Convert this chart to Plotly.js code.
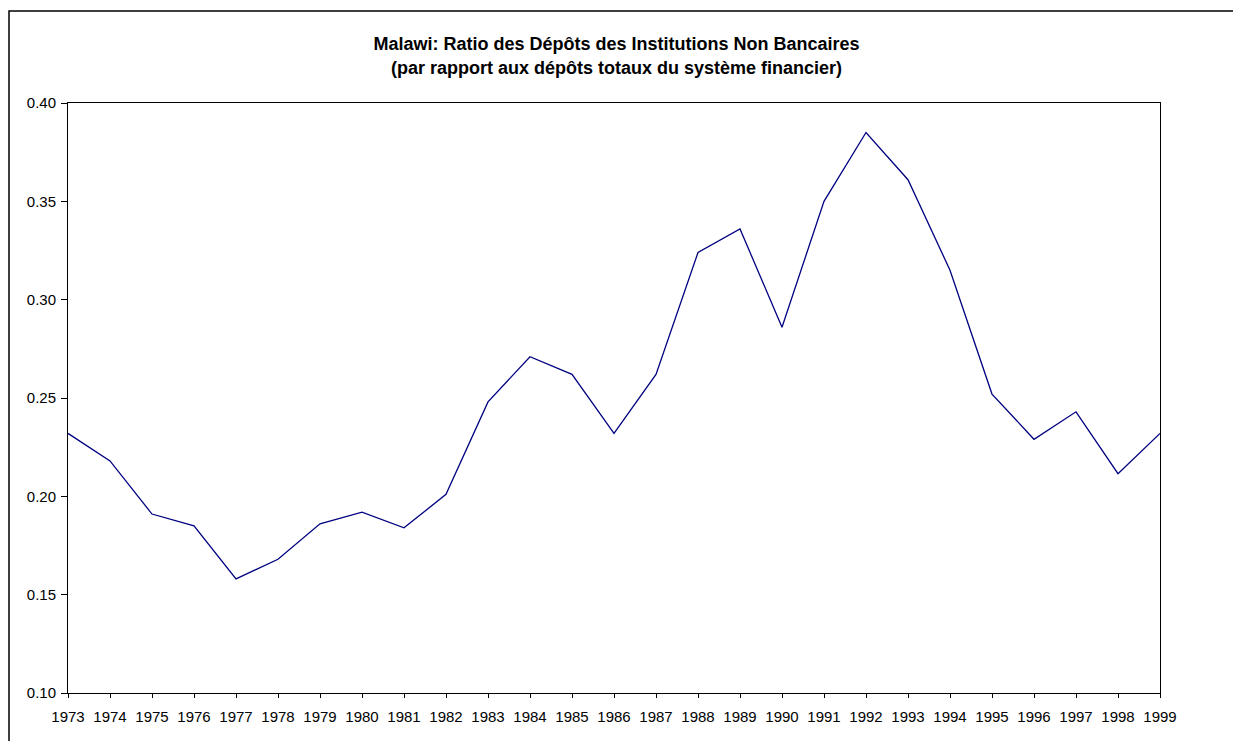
<!DOCTYPE html>
<html>
<head>
<meta charset="utf-8">
<script src="https://cdn.plot.ly/plotly-3.0.1.min.js"></script>
<style>html,body{margin:0;padding:0;background:#fff;}#chart{width:1233px;height:741px;}</style>
</head>
<body>
<div id="chart"></div>
<script>
const years = [1973,1974,1975,1976,1977,1978,1979,1980,1981,1982,1983,1984,1985,1986,1987,1988,1989,1990,1991,1992,1993,1994,1995,1996,1997,1998,1999];
const ratio = [0.232,0.218,0.191,0.185,0.158,0.168,0.186,0.192,0.184,0.201,0.248,0.271,0.262,0.232,0.262,0.324,0.336,0.286,0.350,0.385,0.361,0.315,0.252,0.229,0.243,0.2115,0.232];
const yTicks = [0.10,0.15,0.20,0.25,0.30,0.35,0.40];
const titleText = 'Malawi: Ratio des Dépôts des Institutions Non Bancaires<br>(par rapport aux dépôts totaux du système financier)';

const font = {family: 'Liberation Sans, Arial, sans-serif', size: 15, color: '#000'};

Plotly.newPlot('chart', [{
  x: years, y: ratio, type: 'scatter', mode: 'lines',
  line: {color: '#000080', width: 1.3}, hoverinfo: 'x+y'
}], {
  width: 1233, height: 741,
  margin: {l: 68, r: 73, t: 103, b: 48, pad: 0},
  paper_bgcolor: '#fff', plot_bgcolor: '#fff',
  font: font,
  showlegend: false,
  title: {text: '<b>' + titleText + '</b>', x: 0.5, xref: 'container', xanchor: 'center', y: 0.932, yref: 'container', yanchor: 'top',
          font: {family: 'Liberation Sans, Arial, sans-serif', size: 18, color: '#000'}},
  xaxis: {range: [1973, 1999], tickmode: 'array', tickvals: years, ticktext: years.map(String),
          showgrid: false, zeroline: false, showline: true, mirror: true, linecolor: '#000', linewidth: 1,
          ticks: 'outside', ticklen: 4, tickcolor: '#000', tickwidth: 1, ticklabelstandoff: 6,
          tickfont: font, fixedrange: true},
  yaxis: {range: [0.10, 0.40], tickmode: 'array', tickvals: yTicks, ticktext: yTicks.map(v => v.toFixed(2)),
          showgrid: false, zeroline: false, showline: true, mirror: true, linecolor: '#000', linewidth: 1,
          ticks: 'outside', ticklen: 6, tickcolor: '#000', tickwidth: 1, ticklabelstandoff: 2,
          tickfont: font, fixedrange: true},
  shapes: [{type: 'rect', xref: 'paper', yref: 'paper',
            x0: (9 - 68) / 1092, x1: (1245 - 68) / 1092,
            y0: (693 - 760) / 590, y1: 1 + (103 - 11) / 590,
            line: {color: '#000', width: 1.5}, fillcolor: 'rgba(0,0,0,0)', layer: 'below'}]
}, {displayModeBar: false, staticPlot: true});
</script>
</body>
</html>
